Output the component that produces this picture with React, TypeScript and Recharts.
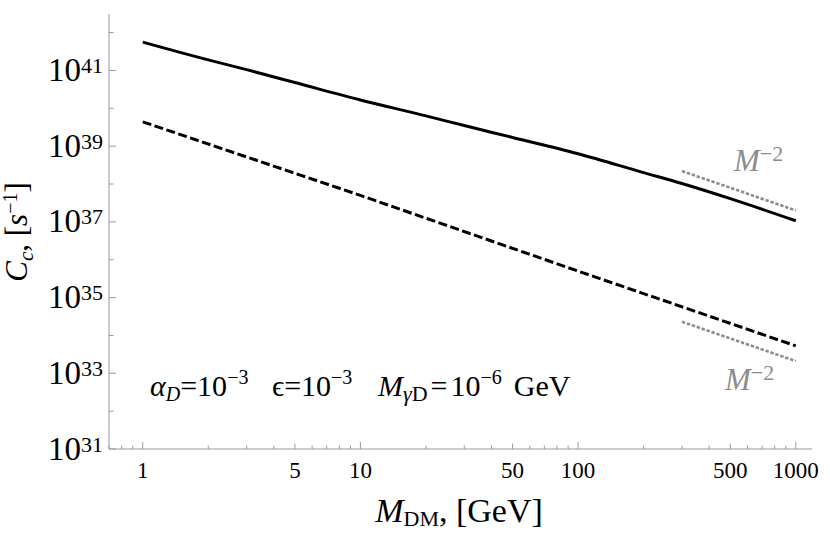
import { LineChart, Line, XAxis, YAxis, Customized } from 'recharts';

// capture rate vs dark-matter mass
const massGeV = [1, 2, 3, 5, 10, 20, 30, 50, 100, 200, 300, 500, 1000];
const solidRate = [5.6e41, 1.9e41, 1.05e41, 4.8e40, 1.66e40, 6.3e39, 3.5e39, 1.7e39, 6.3e38, 2.0e38, 1.03e38, 4.1e37, 1.07e37];

const dashedMass = [1, 10, 100, 1000];
const dashedRate = [4.4e39, 5.0e37, 5.0e35, 5.3e33];

// M^-2 guide segments
const guideMass = [300, 1000];
const upperGuide = [2.2e38, 2.0e37];
const lowerGuide = [2.3e34, 2.1e33];

const xTicks = [
  0.7, 0.8, 0.9, 1, 2, 3, 4, 5, 6, 7, 8, 9, 10, 20, 30, 40, 50, 60, 70, 80, 90,
  100, 200, 300, 400, 500, 600, 700, 800, 900, 1000,
];
const xLabels = [1, 5, 10, 50, 100, 500, 1000];
const yTicks = [1e31, 1e32, 1e33, 1e34, 1e35, 1e36, 1e37, 1e38, 1e39, 1e40, 1e41, 1e42];
const yLabelPowers = [31, 33, 35, 37, 39, 41];

const solidData = massGeV.map((m, i) => ({ m, c: solidRate[i] }));
const dashedData = dashedMass.map((m, i) => ({ m, c: dashedRate[i] }));
const upperData = guideMass.map((m, i) => ({ m, c: upperGuide[i] }));
const lowerData = guideMass.map((m, i) => ({ m, c: lowerGuide[i] }));

const SERIF = "'Liberation Serif', 'Times New Roman', serif";
const FRAME = '#9a9a9a';
const GUIDE = '#8c8c8c';

const xTickLen = (v: number) => {
  if ([1, 10, 100, 1000].includes(v)) return 7;
  if ([5, 50, 500].includes(v)) return 5.5;
  return 3.5;
};
const yTickLen = (v: number) => (Math.round(Math.log10(v)) % 2 !== 0 ? 7 : 4.5);

const BottomTick = (props: any) => {
  const { x, y, payload } = props;
  const v = payload.value;
  return (
    <g>
      <line x1={x} x2={x} y1={y} y2={y - xTickLen(v)} stroke={FRAME} />
      {xLabels.includes(v) && (
        <text x={x} y={y + 29} textAnchor="middle" fontSize={23} fontFamily={SERIF} fill="#000">
          {v}
        </text>
      )}
    </g>
  );
};

const TopTick = (props: any) => {
  const { x, y, payload } = props;
  return <line x1={x} x2={x} y1={y} y2={y + xTickLen(payload.value)} stroke={FRAME} />;
};

const LeftTick = (props: any) => {
  const { x, y, payload } = props;
  const v = payload.value;
  const p = Math.round(Math.log10(v));
  return (
    <g>
      <line x1={x} x2={x + yTickLen(v)} y1={y} y2={y} stroke={FRAME} />
      {yLabelPowers.includes(p) && (
        <text x={x - 6} y={y + 10.5} textAnchor="end" fontFamily={SERIF} fill="#000">
          <tspan fontSize={33}>10</tspan>
          <tspan fontSize={22} dy={-8}>{p}</tspan>
        </text>
      )}
    </g>
  );
};

const RightTick = (props: any) => {
  const { x, y, payload } = props;
  return <line x1={x} x2={x - yTickLen(payload.value)} y1={y} y2={y} stroke={FRAME} />;
};

const Annotations = () => (
  <g fontFamily={SERIF} fill="#000">
    {/* axis titles */}
    <text x={459} y={522} textAnchor="middle" fontSize={34}>
      <tspan fontStyle="italic">M</tspan>
      <tspan fontSize={22} dy={4}>DM</tspan>
      <tspan dy={-4}>, [GeV]</tspan>
    </text>
    <text transform="translate(27,232) rotate(-90)" textAnchor="middle" fontSize={31}>
      <tspan fontStyle="italic">C</tspan>
      <tspan fontSize={21} fontStyle="italic" dy={6}>c</tspan>
      <tspan dy={-6}>, [</tspan>
      <tspan fontStyle="italic">s</tspan>
      <tspan fontSize={20} dy={-10}>−1</tspan>
      <tspan dy={10}>]</tspan>
    </text>

    {/* parameter line */}
    <text x={150} y={396} fontSize={30}>
      <tspan fontStyle="italic">α</tspan>
      <tspan fontSize={20} fontStyle="italic" dy={5}>D</tspan>
      <tspan dy={-5}>=10</tspan>
      <tspan fontSize={20} dy={-12}>−3</tspan>
    </text>
    <text x={272} y={396} fontSize={30}>
      <tspan>ϵ=10</tspan>
      <tspan fontSize={20} dy={-12}>−3</tspan>
    </text>
    <text x={378} y={396} fontSize={30}>
      <tspan fontStyle="italic">M</tspan>
      <tspan fontSize={22} dy={5}>
        <tspan fontStyle="italic">γ</tspan>D
      </tspan>
      <tspan dy={-5} dx={3}>=</tspan>
      <tspan dx={3}>10</tspan>
      <tspan fontSize={20} dy={-12}>−6</tspan>
      <tspan dy={12} dx={12}>GeV</tspan>
    </text>

    {/* slope labels */}
    <text x={734} y={171} fontSize={31} fill={GUIDE}>
      <tspan fontStyle="italic">M</tspan>
      <tspan fontSize={22} dy={-10}>−2</tspan>
    </text>
    <text x={725} y={390} fontSize={31} fill={GUIDE}>
      <tspan fontStyle="italic">M</tspan>
      <tspan fontSize={22} dy={-10}>−2</tspan>
    </text>
  </g>
);

export default function App() {
  const xDomain = [0.7, 1187];
  const yDomain = [1e31, 3.1e42];
  return (
    <div style={{ position: 'absolute', left: 0, top: 0, width: 830, height: 539, background: '#fff' }}>
      <LineChart width={830} height={539} margin={{ top: 14, right: 18, bottom: 0, left: 0 }}>
        <XAxis
          xAxisId="bottom"
          dataKey="m"
          type="number"
          scale="log"
          domain={xDomain}
          allowDataOverflow
          ticks={xTicks}
          interval={0}
          height={90}
          tickSize={0}
          tickMargin={0}
          tickLine={false}
          axisLine={{ stroke: FRAME }}
          tick={<BottomTick />}
        />
        <XAxis
          xAxisId="top"
          orientation="top"
          dataKey="m"
          type="number"
          scale="log"
          domain={xDomain}
          allowDataOverflow
          ticks={xTicks}
          interval={0}
          height={0}
          tickSize={0}
          tickMargin={0}
          tickLine={false}
          axisLine={{ stroke: FRAME }}
          tick={<TopTick />}
        />
        <YAxis
          yAxisId="left"
          type="number"
          scale="log"
          domain={yDomain}
          allowDataOverflow
          ticks={yTicks}
          interval={0}
          width={109}
          tickSize={0}
          tickMargin={0}
          tickLine={false}
          axisLine={{ stroke: FRAME }}
          tick={<LeftTick />}
        />
        <YAxis
          yAxisId="right"
          orientation="right"
          type="number"
          scale="log"
          domain={yDomain}
          allowDataOverflow
          ticks={yTicks}
          interval={0}
          width={0}
          tickSize={0}
          tickMargin={0}
          tickLine={false}
          axisLine={{ stroke: FRAME }}
          tick={<RightTick />}
        />
        <Line
          xAxisId="bottom"
          yAxisId="left"
          type="monotone"
          data={solidData}
          dataKey="c"
          stroke="#000"
          strokeWidth={3}
          dot={false}
          isAnimationActive={false}
        />
        <Line
          xAxisId="bottom"
          yAxisId="left"
          data={dashedData}
          dataKey="c"
          stroke="#000"
          strokeWidth={3}
          strokeDasharray="9 3.5"
          dot={false}
          isAnimationActive={false}
        />
        <Line
          xAxisId="bottom"
          yAxisId="left"
          data={upperData}
          dataKey="c"
          stroke={GUIDE}
          strokeWidth={2.6}
          strokeDasharray="3.4 1.8"
          dot={false}
          isAnimationActive={false}
        />
        <Line
          xAxisId="bottom"
          yAxisId="left"
          data={lowerData}
          dataKey="c"
          stroke={GUIDE}
          strokeWidth={2.6}
          strokeDasharray="3.4 1.8"
          dot={false}
          isAnimationActive={false}
        />
        <Customized component={Annotations} />
      </LineChart>
    </div>
  );
}
